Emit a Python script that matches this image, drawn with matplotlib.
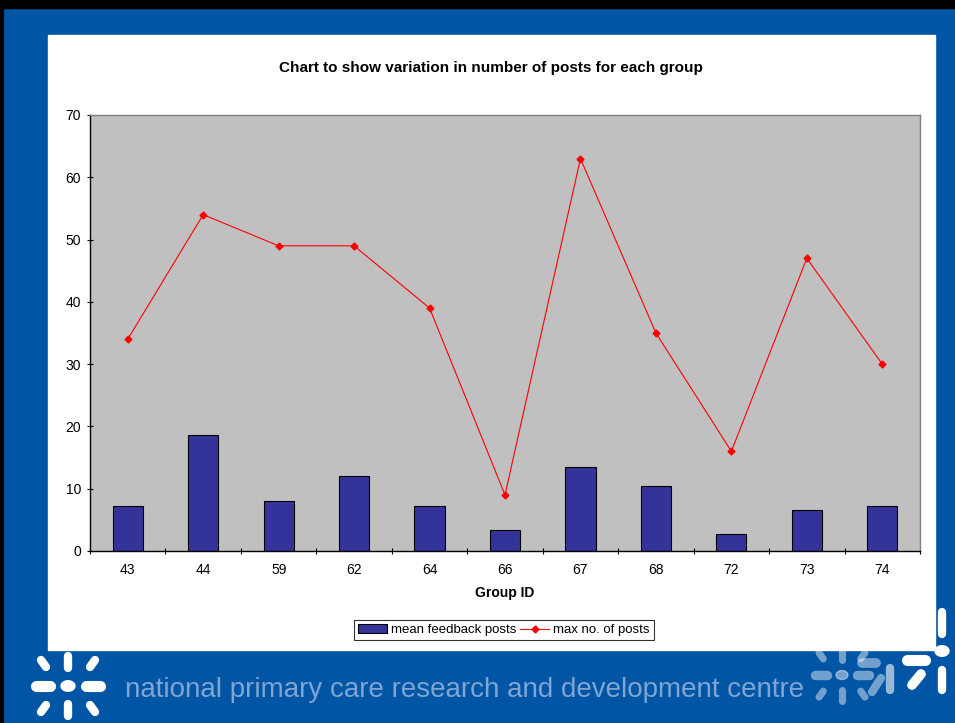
import numpy as np
import matplotlib
matplotlib.use('Agg')
import matplotlib.pyplot as plt
from matplotlib.patches import Rectangle, Circle
from matplotlib.lines import Line2D

plt.rcParams['font.family'] = ['Liberation Sans', 'DejaVu Sans']

#%%----------------- data
groups = ['43', '44', '59', '62', '64', '66', '67', '68', '72', '73', '74']
mean_feedback = [7.3, 18.6, 8.0, 12.0, 7.3, 3.4, 13.5, 10.4, 2.7, 6.6, 7.3]
max_posts = [34, 54, 49, 49, 39, 9, 63, 35, 16, 47, 30]
yticks = np.arange(0, 71, 10)

W, H = 955, 723
blue = '#0055a5'

fig = plt.figure(figsize=(W / 100, H / 100), dpi=100)
fig.patch.set_facecolor(blue)

def px(x0, y0, w, h):
    # pixel box (top-left origin) -> figure fraction
    return [x0 / W, 1 - (y0 + h) / H, w / W, h / H]

# frame: black strip at top and left, white panel
fig.patches.append(Rectangle((0, 1 - 8 / H), 1, 8 / H, transform=fig.transFigure,
                             color='black', zorder=0))
fig.patches.append(Rectangle((0, 0), 3 / W, 1, transform=fig.transFigure,
                             color='black', zorder=0))
fig.patches.append(Rectangle((48 / W, 1 - 650 / H), (935 - 48) / W, (650 - 35) / H,
                             transform=fig.transFigure, color='white', zorder=0))

#%%----------------- chart
ax = fig.add_axes(px(90, 115, 830, 436))
ax.set_zorder(3)
ax.set_facecolor('#c0c0c0')
x = np.arange(len(groups))

ax.bar(x, mean_feedback, width=0.4, color='#333399', edgecolor='black',
       linewidth=0.8, zorder=2, label='mean feedback posts')
ax.plot(x, max_posts, color='red', lw=0.8, marker='D', ms=3.5,
        zorder=3, label='max no. of posts')

ax.set_xlim(-0.5, len(groups) - 0.5)
ax.set_ylim(0, 70)
ax.set_yticks(yticks)
ax.set_xticks(x)
ax.set_xticklabels(groups)
ax.set_xticks(np.arange(-0.5, len(groups)), minor=True)
ax.tick_params(axis='x', which='major', length=0, pad=9, labelsize=10)
ax.tick_params(axis='x', which='minor', length=5, direction='inout', width=0.8)
ax.tick_params(axis='y', length=5, direction='inout', width=0.8, labelsize=10, pad=4)

for s in ['top', 'right']:
    ax.spines[s].set_color('#808080')
    ax.spines[s].set_linewidth(1)
for s in ['left', 'bottom']:
    ax.spines[s].set_color('black')
    ax.spines[s].set_linewidth(1)

ax.set_xlabel('Group ID', fontsize=10, fontweight='bold', labelpad=6)
fig.text(491 / W, 1 - 68 / H, 'Chart to show variation in number of posts for each group',
         ha='center', va='center', fontsize=11, fontweight='bold')

leg_handles = [
    Rectangle((0, 0), 1, 1, facecolor='#333399', edgecolor='black', lw=0.8),
    Line2D([0], [0], color='red', lw=0.8, marker='D', ms=3.5),
]
leg = fig.legend(leg_handles, ['mean feedback posts', 'max no. of posts'],
                 loc='center', bbox_to_anchor=(504 / W, 1 - 630 / H), ncol=2,
                 fontsize=9.5, frameon=True, fancybox=False, edgecolor='black',
                 handlelength=2.2, handletextpad=0.3, columnspacing=0.3,
                 borderpad=0.3, handleheight=0.6)
leg.get_frame().set_linewidth(0.8)
leg.set_zorder(4)

#%%----------------- footer
fig.text(125 / W, 1 - 690 / H, 'national primary care research and development centre',
         ha='left', va='center', fontsize=20, color='#7ea5d3')

def bar(p0, p1, color='white', lw=6, alpha=1.0):
    fig.lines.append(Line2D([p0[0] / W, p1[0] / W], [1 - p0[1] / H, 1 - p1[1] / H],
                            transform=fig.transFigure, color=color, lw=lw,
                            solid_capstyle='round', alpha=alpha))

def dot(c, r, color='white', alpha=1.0):
    fig.patches.append(Circle((c[0] / W, 1 - c[1] / H), r / W, transform=fig.transFigure,
                              color=color, alpha=alpha))

def star(cx, cy, s, color, alpha):
    bar((cx, cy - 30 * s), (cx, cy - 18 * s), color, 6 * s, alpha)
    bar((cx, cy + 18 * s), (cx, cy + 30 * s), color, 6 * s, alpha)
    bar((cx - 32 * s, cy), (cx - 18 * s, cy), color, 8 * s, alpha)
    bar((cx + 18 * s, cy), (cx + 32 * s, cy), color, 8 * s, alpha)
    bar((cx - 27 * s, cy - 26 * s), (cx - 22 * s, cy - 19 * s), color, 6 * s, alpha)
    bar((cx + 27 * s, cy - 26 * s), (cx + 22 * s, cy - 19 * s), color, 6 * s, alpha)
    bar((cx - 27 * s, cy + 26 * s), (cx - 22 * s, cy + 19 * s), color, 6 * s, alpha)
    bar((cx + 27 * s, cy + 26 * s), (cx + 22 * s, cy + 19 * s), color, 6 * s, alpha)
    dot((cx, cy), 7 * s, color, alpha)

star(68, 686, 1.0, 'white', 1.0)
star(842, 675, 0.85, 'white', 0.45)
bar((862, 663), (876, 663), 'white', 7, 0.45)
bar((881, 678), (872, 692), 'white', 6, 0.45)
bar((890, 668), (890, 690), 'white', 6, 0.6)
bar((942, 612), (942, 634), 'white', 6)
dot((942, 651), 7)
bar((942, 670), (942, 690), 'white', 6)
bar((912, 685), (921, 674), 'white', 7)
bar((907, 660), (925, 660), 'white', 8)

fig.savefig('out.png', dpi=100, facecolor=fig.get_facecolor())
